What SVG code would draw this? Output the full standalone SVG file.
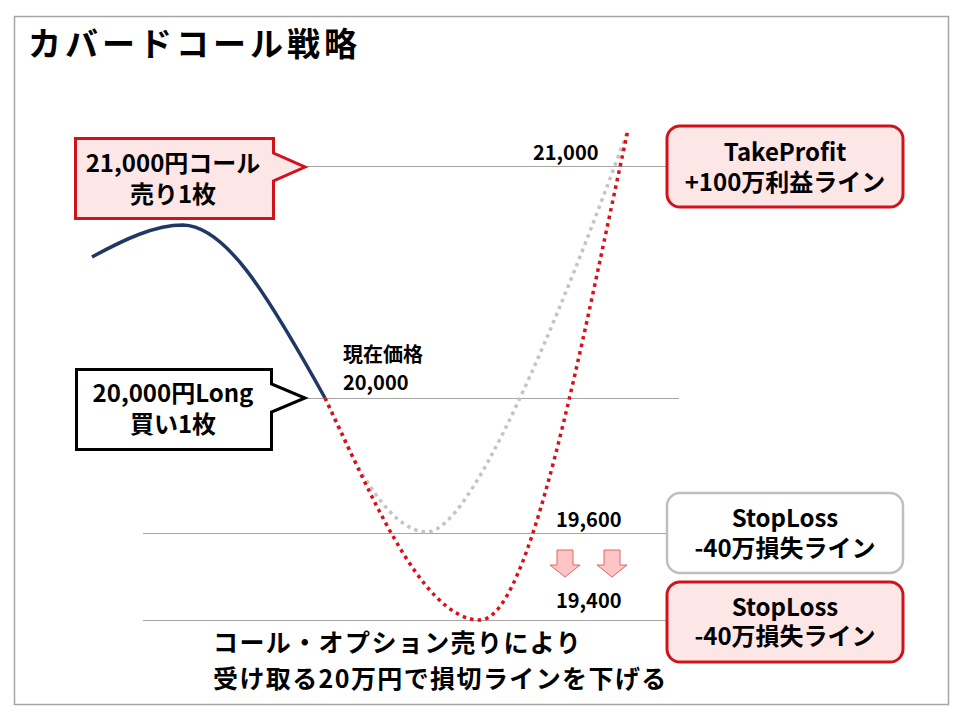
<svg xmlns="http://www.w3.org/2000/svg" width="960" height="720" viewBox="0 0 960 720">
<style>
text{font-family:"Noto Sans CJK JP","Noto Sans",sans-serif;font-weight:bold;fill:#000}
.lbl{font-size:24px;text-anchor:middle}
.num{font-size:20px}
.hl{stroke:#a6a6a6;stroke-width:1;fill:none}
.pink{fill:#fde6e6;stroke:#d0121b;stroke-width:3}
.dot{fill:none;stroke-width:3.5;stroke-dasharray:3.5 4.2}
.arr{fill:#ffc4c4;stroke:#e06464;stroke-width:1}
</style>
<rect x="0" y="0" width="960" height="720" fill="#fff"/>
<rect x="14.5" y="16.5" width="934" height="688" fill="none" stroke="#a6a6a6" stroke-width="1.5"/>
<text x="28" y="56" style="font-size:33px;letter-spacing:4px">カバードコール戦略</text>

<g id="connectors">
<line class="hl" x1="305" y1="166.5" x2="667" y2="166.5"/>
<line class="hl" x1="305" y1="398.5" x2="679" y2="398.5"/>
<line class="hl" x1="143" y1="533.5" x2="667" y2="533.5"/>
<line class="hl" x1="143" y1="620.5" x2="667" y2="620.5"/>
<path d="M92,257 C125,239 155,225 183,225 C225,226 265,290 325,398" fill="none" stroke="#1f3864" stroke-width="3.5"/>
<path class="dot" stroke="#c4c4c4" d="M325,398 C345,445 385,532 427,532 C470,532 555,330 628,130"/>
<path class="dot" stroke="#d9101a" d="M325,398 C365,480 420,620 480,620 C530,620 580,350 628,130"/>
</g>

<g id="callout-call">
<path class="pink" d="M75.5,138.5 H273.5 V153 L305,167 L273.5,181 V218.5 H75.5 Z"/>
<text class="lbl" x="173" y="172">21,000円コール</text>
<text class="lbl" x="173" y="203">売り1枚</text>
</g>

<g id="callout-long">
<path d="M76.5,369.5 H271.5 V384 L305,398 L271.5,412 V449.5 H76.5 Z" fill="#fff" stroke="#000" stroke-width="3"/>
<text class="lbl" x="173" y="402">20,000円Long</text>
<text class="lbl" x="173" y="433">買い1枚</text>
</g>

<g id="label-21000"><text class="num" x="533" y="160">21,000</text></g>
<g id="label-current">
<text class="num" x="343" y="362">現在価格</text>
<text class="num" x="343" y="390">20,000</text>
</g>
<g id="label-19600"><text class="num" x="556" y="527">19,600</text></g>
<g id="label-19400"><text class="num" x="556" y="608">19,400</text></g>

<g id="arrows">
<path class="arr" d="M557,550 H573 V565 H580 L565,577 L550,565 H557 Z"/>
<path class="arr" d="M604,550 H620 V565 H627 L612,577 L597,565 H604 Z"/>
</g>

<g id="box-takeprofit">
<rect class="pink" x="667" y="126" width="236" height="81" rx="13" stroke-width="2.5"/>
<text class="lbl" x="785" y="161">TakeProfit</text>
<text class="lbl" x="785" y="191">+100万利益ライン</text>
</g>
<g id="box-stoploss-old">
<rect x="667" y="493" width="236" height="80" rx="13" fill="#fff" stroke="#bfbfbf" stroke-width="2.5"/>
<text class="lbl" x="785" y="527">StopLoss</text>
<text class="lbl" x="785" y="557">-40万損失ライン</text>
</g>
<g id="box-stoploss-new">
<rect class="pink" x="667" y="582" width="236" height="80" rx="13" stroke-width="2.5"/>
<text class="lbl" x="785" y="616">StopLoss</text>
<text class="lbl" x="785" y="645">-40万損失ライン</text>
</g>

<g id="note">
<text x="213" y="652" style="font-size:25px;letter-spacing:1.4px">コール・オプション売りにより</text>
<text x="213" y="688" style="font-size:25px;letter-spacing:1.4px">受け取る20万円で損切ラインを下げる</text>
</g>
</svg>
